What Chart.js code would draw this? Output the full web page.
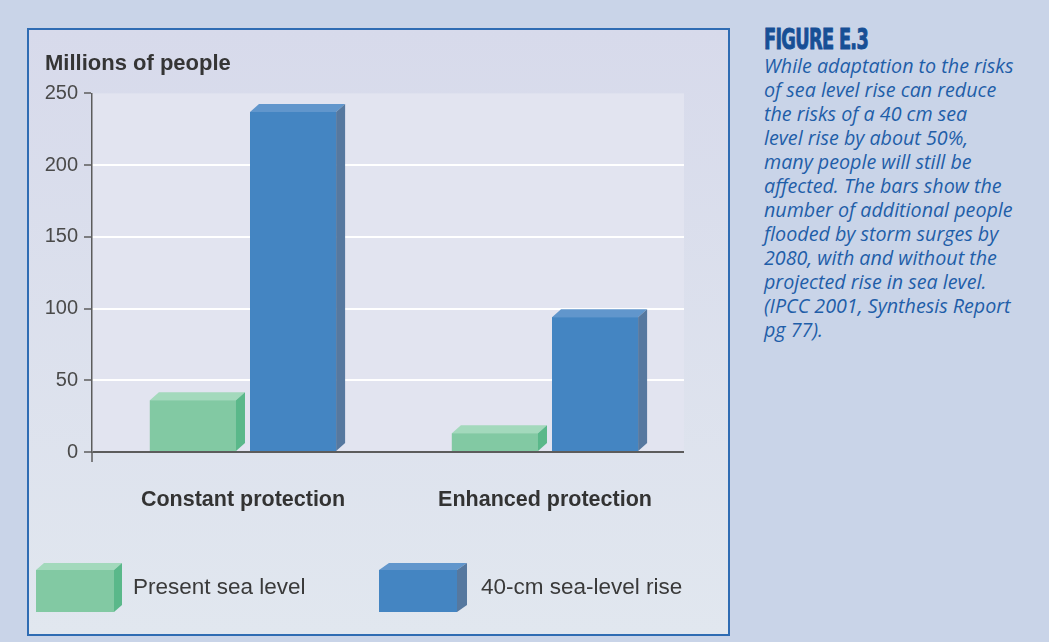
<!DOCTYPE html>
<html>
<head>
<meta charset="utf-8">
<script src="https://cdn.jsdelivr.net/npm/chart.js@4/dist/chart.umd.min.js"></script>
<style>
  body { margin: 0; width: 1049px; height: 642px; background: #c9d4e8; position: relative; overflow: hidden; }
  #panel { position: absolute; left: 27px; top: 28px; width: 699px; height: 604px; border: 2px solid #2f6cb3;
           background: linear-gradient(#d7daeb, #e1e7ef); }
  #caption { position: absolute; left: 764px; top: 24px; width: 285px; color: #1f5ea8; }
  #caption h2 { margin: 0; font-family: "Liberation Sans Narrow", "DejaVu Sans Condensed", sans-serif; font-weight: bold;
                font-size: 29px; line-height: 30px; color: #174f95; transform: scaleX(0.68); transform-origin: left;
                letter-spacing: -1px; -webkit-text-stroke: 0.9px #174f95; white-space: nowrap; }
  #caption p { margin: 0; font-family: "Open Sans", sans-serif; font-style: italic; font-size: 19.7px; line-height: 24px; white-space: nowrap; }
</style>
</head>
<body>
<div id="panel"><canvas id="floodChart" width="699" height="604"></canvas></div>
<div id="caption">
  <h2>FIGURE E.3</h2>
  <p>While adaptation to the risks<br>of sea level rise can reduce<br>the risks of a 40 cm sea<br>level rise by about 50%,<br>many people will still be<br>affected. The bars show the<br>number of additional people<br>flooded by storm surges by<br>2080, with and without the<br>projected rise in sea level.<br>(IPCC 2001, Synthesis Report<br>pg 77).</p>
</div>
<script>
const categories = ['Constant protection', 'Enhanced protection'];
const presentSeaLevel = [36, 13];
const seaLevelRise40cm = [237, 94];
const seriesLabels = ['Present sea level', '40-cm sea-level rise'];
const yMax = 250;
const yStep = 50;

// front / top / side shades for the box effect
const shades = [
  { front: '#82c9a3', top: '#a3d9bc', side: '#5ab88a' },
  { front: '#4485c2', top: '#6196cc', side: '#56789f' }
];

const depthX = 9, depthY = 8;
const axisColor = '#5c5c5c';
const gridEnd = 12; // grid lines stop short of the right edge of the plot

function drawBox(c, left, right, top, bottom, dx, dy, s) {
  c.fillStyle = s.front;
  c.fillRect(left, top, right - left, bottom - top);
  c.fillStyle = s.top;
  c.beginPath();
  c.moveTo(left, top); c.lineTo(left + dx, top - dy); c.lineTo(right + dx, top - dy); c.lineTo(right, top);
  c.closePath(); c.fill();
  c.fillStyle = s.side;
  c.beginPath();
  c.moveTo(right, top); c.lineTo(right + dx, top - dy); c.lineTo(right + dx, bottom - dy); c.lineTo(right, bottom);
  c.closePath(); c.fill();
}

const plotBackground = {
  id: 'plotBackground',
  beforeDraw(chart) {
    const { ctx, chartArea: a } = chart;
    ctx.save();
    ctx.fillStyle = '#e2e4f0';
    ctx.fillRect(a.left, a.top, a.right - a.left - gridEnd, a.bottom - a.top);
    ctx.restore();
    // clip the scale layer so the grid ends with the shaded area
    ctx.save();
    ctx.beginPath();
    ctx.rect(0, 0, a.right - gridEnd, chart.height);
    ctx.clip();
  },
  beforeDatasetsDraw(chart) {
    chart.ctx.restore();
  },
  afterDraw(chart) {
    // y axis runs a little past the zero line
    const { ctx, chartArea: a } = chart;
    ctx.save();
    ctx.strokeStyle = axisColor;
    ctx.lineWidth = 1.5;
    ctx.beginPath();
    ctx.moveTo(a.left, a.bottom);
    ctx.lineTo(a.left, a.bottom + 10);
    ctx.stroke();
    ctx.restore();
  }
};

// gives every bar a lit top and a shaded side
const boxBars = {
  id: 'boxBars',
  afterDatasetsDraw(chart) {
    const ctx = chart.ctx;
    ctx.save();
    chart.data.datasets.forEach((ds, i) => {
      chart.getDatasetMeta(i).data.forEach(bar => {
        const half = bar.width / 2;
        drawBox(ctx, bar.x - half, bar.x + half, bar.y, bar.base, depthX, depthY, shades[i]);
      });
    });
    ctx.restore();
  }
};

const boxLegend = {
  id: 'boxLegend',
  afterDraw(chart) {
    const ctx = chart.ctx;
    const boxXs = [7, 350];
    const textXs = [104, 452];
    const y = 540, w = 78, h = 42;
    ctx.save();
    ctx.font = '22.5px "Liberation Sans", Arial, sans-serif';
    ctx.textBaseline = 'middle';
    chart.data.datasets.forEach((ds, i) => {
      drawBox(ctx, boxXs[i], boxXs[i] + w, y, y + h, 8 + i * 2, 7, shades[i]);
      ctx.fillStyle = '#3a3a3a';
      ctx.fillText(ds.label, textXs[i], y + h / 2 - 3);
    });
    ctx.restore();
  }
};

new Chart(document.getElementById('floodChart'), {
  type: 'bar',
  data: {
    labels: categories,
    datasets: [
      { label: seriesLabels[0], data: presentSeaLevel, backgroundColor: shades[0].front },
      { label: seriesLabels[1], data: seaLevelRise40cm, backgroundColor: shades[1].front }
    ]
  },
  options: {
    responsive: false,
    animation: false,
    layout: { padding: { left: 16, right: 32, top: 0, bottom: 110 } },
    datasets: { bar: { categoryPercentage: 0.663, barPercentage: 0.86 } },
    plugins: {
      legend: { display: false },
      tooltip: { enabled: false },
      title: {
        display: true,
        text: 'Millions of people',
        align: 'start',
        color: '#353535',
        font: { family: '"Liberation Sans", Arial, sans-serif', size: 22, weight: 'bold' },
        padding: { top: 21, bottom: 16 }
      }
    },
    scales: {
      x: {
        grid: { display: false, drawTicks: false },
        border: { display: false },
        ticks: { color: '#333', padding: 35, font: { family: '"Liberation Sans", Arial, sans-serif', size: 21.5, weight: 'bold' } },
        afterFit(scale) { scale.height = 72; }
      },
      y: {
        min: 0,
        max: yMax,
        ticks: { stepSize: yStep, color: '#4a4a4a', padding: 6, font: { family: '"Liberation Sans", Arial, sans-serif', size: 20 } },
        grid: {
          color: c => c.tick.value === 0 ? axisColor : (c.tick.value === yMax ? 'rgba(0,0,0,0)' : '#ffffff'),
          lineWidth: 2,
          tickLength: 8,
          tickColor: axisColor,
          tickWidth: 1.5
        },
        border: { color: axisColor, width: 1.5 },
        afterFit(scale) { scale.width = 47; }
      }
    }
  },
  plugins: [plotBackground, boxBars, boxLegend]
});
</script>
</body>
</html>
